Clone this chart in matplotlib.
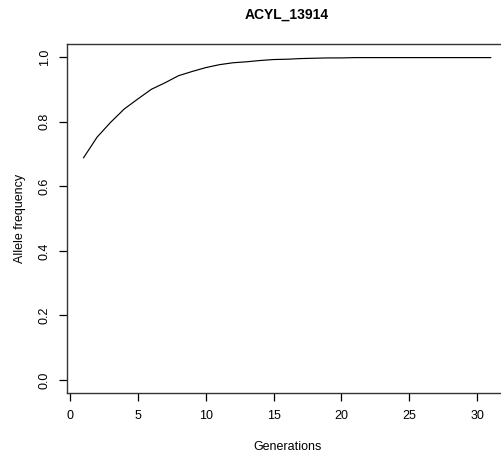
import matplotlib
matplotlib.use("Agg")
import matplotlib.pyplot as plt

# Allele frequency per generation
generations = list(range(1, 32))
allele_freq = [
    0.688, 0.752, 0.798, 0.839, 0.870, 0.900, 0.920, 0.942, 0.955, 0.967,
    0.976, 0.982, 0.985, 0.989, 0.992, 0.993, 0.995, 0.996, 0.997, 0.997,
    0.998, 0.998, 0.998, 0.998, 0.998, 0.998, 0.998, 0.998, 0.998, 0.998,
    0.998,
]
x_ticks = [0, 5, 10, 15, 20, 25, 30]
y_ticks = [0.0, 0.2, 0.4, 0.6, 0.8, 1.0]

plt.rcParams["font.family"] = ["Liberation Sans", "DejaVu Sans"]

fig = plt.figure(figsize=(5.02, 4.61), dpi=100)
# right edge of the box runs just past the figure border
ax = fig.add_axes([0.134, 0.1475, 0.876, 0.757])

ax.plot(generations, allele_freq, color="black", linewidth=0.85)

ax.set_xlim(-0.2, 32.2)
ax.set_ylim(-0.04, 1.04)
ax.set_xticks(x_ticks)
ax.set_xticklabels([str(t) for t in x_ticks])
ax.set_yticks(y_ticks)
ax.set_yticklabels([f"{t:.1f}" for t in y_ticks], rotation=90, va="center")

ax.tick_params(direction="out", length=6, width=0.9, labelsize=9, pad=6)
for spine in ax.spines.values():
    spine.set_linewidth(1.0)
    spine.set_color("#333333")

ax.set_xlabel("Generations", fontsize=9, labelpad=14)
ax.set_ylabel("Allele frequency", fontsize=9, labelpad=9)
ax.set_title("ACYL_13914", fontsize=10, fontweight="bold", pad=18)

fig.savefig("out.png", dpi=100)
